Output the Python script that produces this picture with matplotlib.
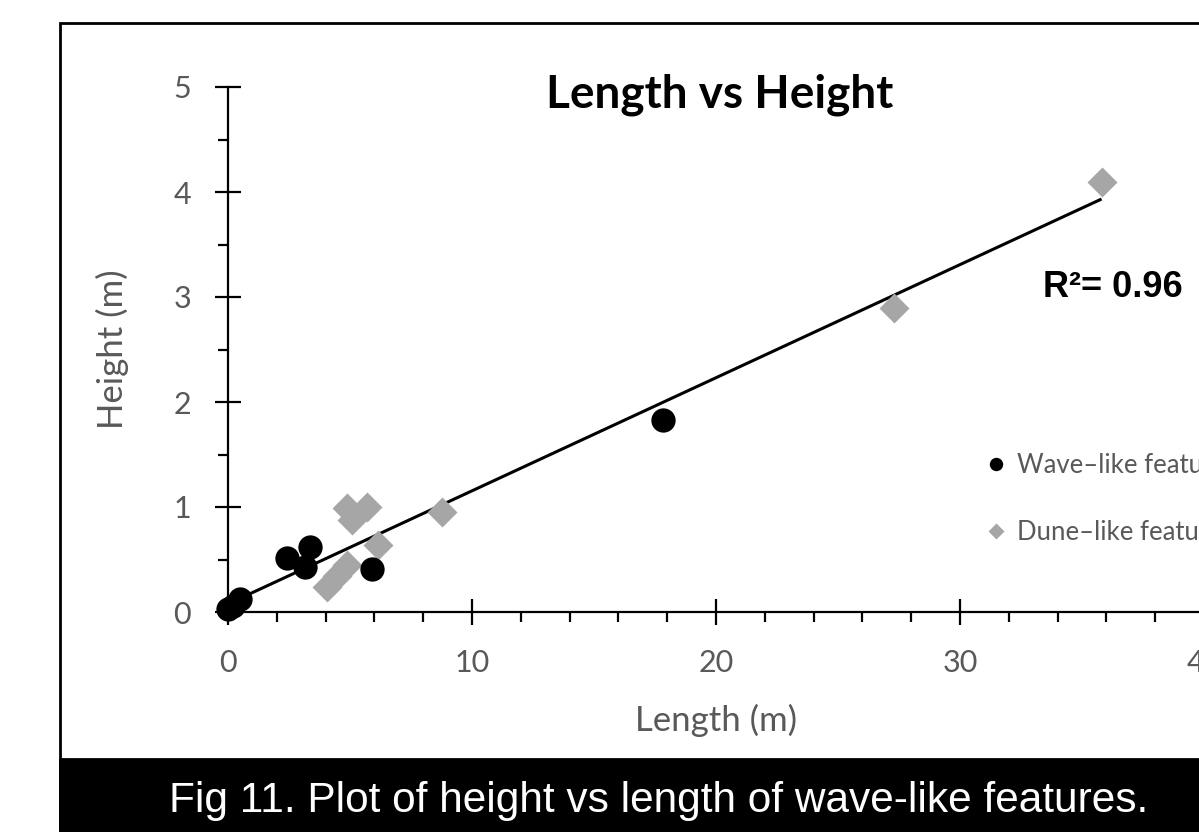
"""
Length vs height scatter (wave-like / dune-like features)
"""
from matplotlib import pyplot as plt
from matplotlib.patches import Rectangle
from matplotlib.ticker import MultipleLocator
import numpy as np

W, H = 1199, 832

# wave-like features (black circles)
wave_length = [0.0, 0.2, 0.5, 2.43, 3.36, 3.16, 5.89, 17.83]
wave_height = [0.03, 0.06, 0.12, 0.51, 0.62, 0.43, 0.41, 1.83]

# dune-like features (grey diamonds)
dune_length = [4.86, 5.68, 5.07, 6.16, 8.76, 4.04, 4.45, 4.86, 27.3, 35.8]
dune_height = [0.99, 1.00, 0.88, 0.64, 0.95, 0.24, 0.34, 0.45, 2.90, 4.10]

x_ticks = [0, 10, 20, 30, 40]
y_ticks = [0, 1, 2, 3, 4, 5]

GREY_TXT = '#595959'
GREY_PT = '#a6a6a6'
FONT = 'Lato'

fig = plt.figure(figsize=(W / 100, H / 100), dpi=100)

# outer frame and caption band (pixel coords, origin top-left)
def px_box(x0, y0, x1, y1):
    return (x0 / W, 1 - y1 / H), (x1 - x0) / W, (y1 - y0) / H

xy, w, h = px_box(60, 23, 1260, 759)
fig.patches.append(Rectangle(xy, w, h, transform=fig.transFigure,
                             fill=False, ec='black', lw=2, zorder=0))
xy, w, h = px_box(59, 759, 1199, 832)
fig.patches.append(Rectangle(xy, w, h, transform=fig.transFigure,
                             fc='black', ec='none', zorder=1))
fig.text(169 / W, 1 - 812 / H,
         'Fig 11. Plot of height vs length of wave-like features.',
         color='white', fontsize=30.5, family='Liberation Sans',
         ha='left', va='baseline')

# plot area: x 0..40 -> px 228..1204, y 0..5 -> px 612..87
ax = fig.add_axes([228 / W, (H - 612) / H, 976 / W, 525 / H])
ax.set_xlim(0, 40)
ax.set_ylim(0, 5)
ax.patch.set_alpha(0)
for side in ('top', 'right'):
    ax.spines[side].set_visible(False)
for side in ('left', 'bottom'):
    ax.spines[side].set_linewidth(1.6)
    ax.spines[side].set_clip_on(False)

ax.xaxis.set_major_locator(MultipleLocator(10))
ax.xaxis.set_minor_locator(MultipleLocator(2))
ax.yaxis.set_major_locator(MultipleLocator(1))
ax.yaxis.set_minor_locator(MultipleLocator(0.5))
ax.set_xticks(x_ticks)
ax.set_yticks(y_ticks)
ax.tick_params(which='major', direction='inout', length=19, width=1.6,
               labelsize=22, labelcolor=GREY_TXT, pad=17)
ax.tick_params(which='minor', direction='out', length=7, width=1.6)
for lab in ax.get_xticklabels() + ax.get_yticklabels():
    lab.set_family(FONT)

# linear trendline over all points
all_x = np.array(wave_length + dune_length)
all_y = np.array(wave_height + dune_height)
slope, icpt = np.polyfit(all_x, all_y, 1)
xs = np.array([all_x.min(), all_x.max()])
ax.plot(xs, slope * xs + icpt, color='black', lw=2.2, zorder=2,
        solid_capstyle='butt', clip_on=False)

ax.plot(dune_length, dune_height, 'D', ms=15, color=GREY_PT, mec='none',
        zorder=3, clip_on=False, label='Dune\u2013like features')
ax.plot(wave_length, wave_height, 'o', ms=17.5, color='black', mec='none',
        zorder=4, clip_on=False, label='Wave\u2013like features')

fig.text((548 + 892) / 2 / W, 1 - 108 / H, 'Length vs Height',
         family=FONT, fontweight='bold', fontsize=33,
         ha='center', va='baseline')

ax.set_xlabel('Length (m)', family=FONT, fontsize=25, color=GREY_TXT)
ax.xaxis.set_label_coords(0.5, (612 - 720) / 525)
ax.xaxis.label.set_va('center')
ax.set_ylabel('Height (m)', family=FONT, fontsize=25, color=GREY_TXT)
ax.yaxis.set_label_coords((112 - 228) / 976, 0.5)
ax.yaxis.label.set_va('center')

fig.text(1043 / W, 1 - 297 / H, 'R\u00b2= 0.96',
         family='Liberation Sans', fontweight='bold',
         fontsize=26, ha='left', va='baseline')

handles, labels = ax.get_legend_handles_labels()
leg = fig.legend(handles[::-1], labels[::-1], loc='upper left',
                 bbox_to_anchor=(985 / W, 1 - 453 / H), frameon=False,
                 prop={'family': FONT, 'size': 18.5}, labelcolor=GREY_TXT,
                 markerscale=0.55, handlelength=0.85, handletextpad=0.4,
                 labelspacing=1.65, borderpad=0, borderaxespad=0)

fig.savefig('out.png', dpi=100)
